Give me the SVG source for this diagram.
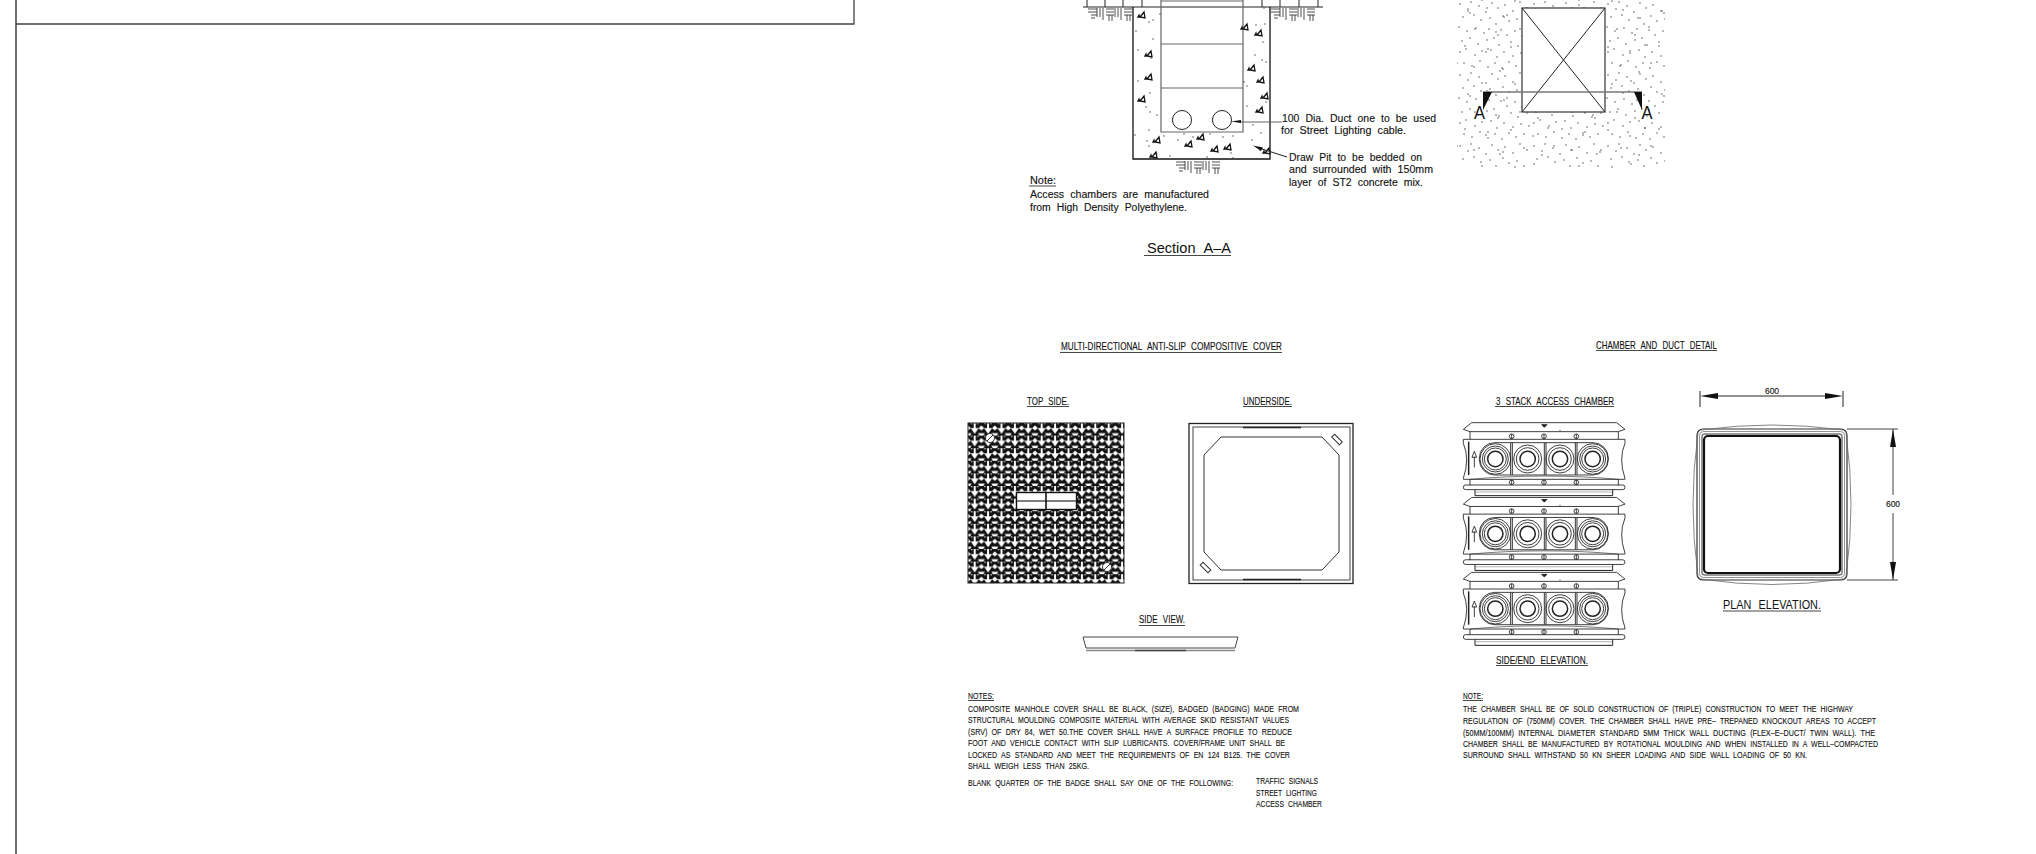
<svg xmlns="http://www.w3.org/2000/svg" xmlns:xlink="http://www.w3.org/1999/xlink" width="2036" height="854" viewBox="0 0 2036 854">
<style>
text{font-family:"Liberation Sans",Arial,sans-serif;fill:#111;stroke:#111;stroke-width:.12}
.s{font-size:10px;word-spacing:3px}
.c{font-size:9.500px;word-spacing:3px}
.t{font-size:10.500px;word-spacing:4px}
.l{fill:none;stroke:#222;stroke-width:1}
.g{fill:none;stroke:#666;stroke-width:1.200}
.u{stroke:#333;stroke-width:.9}
.dot{fill:none;stroke:#333;stroke-width:1.300;stroke-linecap:round}
</style>
<defs>
<pattern id="hatch" patternUnits="userSpaceOnUse" x="968" y="423" width="13.400" height="12.600">
<rect width="13.400" height="12.600" fill="#111"/>
<path d="M5.700 0h2v5h3l-4 6-4-6h3z" fill="#fff"/>
<path d="M0 2.500l2.800 2.500-2.800 2.500zM13.400 2.500l-2.800 2.500 2.800 2.500zM0 10.200h3.500l-1.500 2.400H0zM13.400 10.200h-3.500l1.500 2.400h2z" fill="#fff"/>
<path d="M3 0h1.300v1.300H3zM9.100 0h1.300v1.300H9.100z" fill="#eee"/>
</pattern>
<pattern id="sand" patternUnits="userSpaceOnUse" x="1457" y="0" width="74" height="71">
<path class="dot" d="M3 4h.01M11 9h.01M14 2h.01M22 6h.01M29 12h.01M35 3h.01M41 8h.01M48 5h.01M56 11h.01M63 2h.01M70 8h.01M6 17h.01M17 15h.01M24 20h.01M33 18h.01M39 24h.01M46 16h.01M52 21h.01M60 19h.01M67 24h.01M2 27h.01M10 31h.01M19 28h.01M27 33h.01M32 29h.01M44 30h.01M50 35h.01M58 31h.01M65 36h.01M72 30h.01M5 41h.01M13 38h.01M21 44h.01M30 40h.01M37 38h.01M42 45h.01M54 42h.01M61 46h.01M70 42h.01M3 52h.01M9 49h.01M18 55h.01M25 51h.01M34 50h.01M40 57h.01M47 52h.01M56 56h.01M64 53h.01M72 55h.01M7 63h.01M15 66h.01M23 61h.01M31 67h.01M38 63h.01M45 68h.01M52 62h.01M59 66h.01M67 63h.01"/>
</pattern>
<pattern id="sand2" patternUnits="userSpaceOnUse" x="1460" y="5" width="97" height="83">
<path class="dot" d="M8 6h.01M10 8h.01M27 3h.01M44 12h.01M47 10h.01M66 5h.01M83 13h.01M15 24h.01M36 27h.01M38 30h.01M60 24h.01M78 30h.01M92 22h.01M5 41h.01M26 47h.01M28 44h.01M51 42h.01M73 48h.01M88 40h.01M14 62h.01M40 66h.01M43 64h.01M64 60h.01M82 67h.01M94 58h.01M22 78h.01M55 79h.01M74 76h.01"/>
</pattern>
<g id="brick" fill="none" stroke="#222" stroke-width=".8">
<path d="M0 2h9M0 5h9M3 8h6M3 11h4M9 1v9M12 1v9M15 1v12M18 2h8M18 5h8M18 8h8M21 8v6M24 8v6M27 1v9M30 1v9M33 1v12M36 2h8M36 5h8M36 8h8M39 8v6M42 8v6"/>
</g>
<path id="rock" d="M-2 2L2 -3 3 3zM-4 2l1-2 .5 2z" fill="#fff" stroke="#111" stroke-width="1.300"/>
<g id="unit" transform="translate(1450,380) scale(.3333)">
<g fill="none" stroke="#222" stroke-width="2.600">
<path d="M65 128H500L525 148 505 155V178M65 128L40 148 60 155V178M60 155H505M330 150v3"/>
<path d="M40 178H525V190Q505 237 525 295M40 178V190Q60 237 40 295V298H525V295"/>
<path d="M60 298C200 285 365 285 505 298" stroke-width="1.800"/>
<path d="M60 298v18M505 298v18"/>
<path d="M47 315H518a6 6 0 0 1 0 14H47a6 6 0 0 1 0-14z"/>
<path d="M75 329v18H488V329" stroke-width="3"/>
<path d="M75 336H488" stroke-width="1.500" stroke="#666"/>
<rect x="88" y="188" width="387" height="97" rx="46"/>
<path d="M182 188V285M187 188V285M283 188V285M288 188V285M376 188V285M381 188V285" stroke="#333" stroke-width="3"/>
<circle cx="136" cy="237" r="46"/><circle cx="136" cy="237" r="39"/><circle cx="136" cy="237" r="33"/><circle cx="136" cy="237" r="23" stroke-width="4.500"/>
<circle cx="233" cy="237" r="42"/><circle cx="233" cy="237" r="34"/><circle cx="233" cy="237" r="23" stroke-width="4.500"/>
<circle cx="330" cy="237" r="42"/><circle cx="330" cy="237" r="34"/><circle cx="330" cy="237" r="23" stroke-width="4.500"/>
<circle cx="428" cy="237" r="46"/><circle cx="428" cy="237" r="39"/><circle cx="428" cy="237" r="33"/><circle cx="428" cy="237" r="23" stroke-width="4.500"/>
<path d="M56 185V285" stroke-width="4.500"/>
<path d="M73 262V230M66 232L73 214 80 232H66"/>
<circle cx="185" cy="169" r="7"/><circle cx="282" cy="169" r="7"/><circle cx="379" cy="169" r="7"/>
<circle cx="185" cy="307" r="7"/><circle cx="282" cy="307" r="7"/><circle cx="379" cy="307" r="7"/>
<path d="M185 162v14M282 162v14M379 162v14M185 300v14M282 300v14M379 300v14"/>
<path d="M275 134h16l-8 8z" fill="#222"/>
</g>
</g>
</defs>

<g id="frame" fill="none">
<path d="M16 0V854" stroke="#333" stroke-width="1.400"/>
<path d="M16 24H854V0" stroke="#444" stroke-width="1.300"/>
</g>

<g id="section-aa">
<path class="l" d="M1083 7H1323M1087 0V7M1105 0V7M1123 0V7M1142 0V7M1262 0V7M1280 0V7M1299 0V7M1318 0V7"/>
<use href="#brick" x="1088" y="7"/>
<use href="#brick" x="1271" y="7"/>
<use href="#brick" x="1176" y="160"/>
<path d="M1133 7V159H1270V7" fill="none" stroke="#111" stroke-width="1.300"/>
<path class="g" d="M1161 0V132H1243V0M1161 1H1243M1161 44H1243M1161 88H1243" stroke-width="1.500"/>
<circle class="l" cx="1182" cy="120" r="9.500"/>
<circle class="l" cx="1222" cy="120" r="9.500"/>
<use href="#rock" x="1142" y="15"/><use href="#rock" x="1259" y="33"/><use href="#rock" x="1149" y="54"/><use href="#rock" x="1252" y="68"/><use href="#rock" x="1149" y="77"/><use href="#rock" x="1261" y="80"/><use href="#rock" x="1265" y="96"/><use href="#rock" x="1260" y="110"/><use href="#rock" x="1142" y="99"/><use href="#rock" x="1157" y="140"/><use href="#rock" x="1189" y="144"/><use href="#rock" x="1201" y="137"/><use href="#rock" x="1215" y="149"/><use href="#rock" x="1228" y="147"/><use href="#rock" x="1154" y="155"/><use href="#rock" x="1267" y="151"/><use href="#rock" x="1245" y="27"/>
<path class="dot" d="M1149 22h.01M1153 20h.01M1160 14h.01M1136 31h.01M1153 39h.01M1138 50h.01M1151 58h.01M1138 81h.01M1150 93h.01M1146 107h.01M1150 112h.01M1157 115h.01M1149 130h.01M1147 141h.01M1149 146h.01M1170 156h.01M1164 136h.01M1184 134h.01M1178 140h.01M1193 137h.01M1210 134h.01M1223 137h.01M1233 136h.01M1252 140h.01M1261 133h.01M1253 125h.01M1247 106h.01M1244 82h.01M1247 86h.01M1255 55h.01M1262 60h.01M1266 62h.01M1264 8h.01M1256 25h.01M1265 24h.01M1263 42h.01M1266 102h.01M1135 135h.01M1207 157h.01M1233 158h.01M1260 150h.01M1231 153h.01"/>
<path class="g" d="M1282 122H1240"/>
<path d="M1241 120l-10 1.500 10 1.500z" fill="#111"/>
<path class="l" d="M1287 157L1262 149"/>
<path d="M1263 147.500L1253 145.500 1261 151z" fill="#111"/>
<text class="s" x="1282" y="122" textLength="154" lengthAdjust="spacingAndGlyphs">100 Dia. Duct one to be used</text>
<text class="s" x="1281" y="134" textLength="125" lengthAdjust="spacingAndGlyphs">for Street Lighting cable.</text>
<text class="s" x="1289" y="161" textLength="133" lengthAdjust="spacingAndGlyphs">Draw Pit to be bedded on</text>
<text class="s" x="1289" y="173" textLength="144" lengthAdjust="spacingAndGlyphs">and surrounded with 150mm</text>
<text class="s" x="1289" y="186" textLength="134" lengthAdjust="spacingAndGlyphs">layer of ST2 concrete mix.</text>
<text class="s" x="1030" y="184" textLength="26" lengthAdjust="spacingAndGlyphs">Note:</text>
<path class="u" d="M1029 186H1056"/>
<text class="s" x="1030" y="198" textLength="179" lengthAdjust="spacingAndGlyphs">Access chambers are manufactured</text>
<text class="s" x="1030" y="211" textLength="157" lengthAdjust="spacingAndGlyphs">from High Density Polyethylene.</text>
<text x="1147" y="253" font-size="15" textLength="84" lengthAdjust="spacingAndGlyphs" word-spacing="5" style="stroke-width:0">Section A–A</text>
<path class="u" d="M1144 255.500H1231"/>
</g>

<g id="plan-aa">
<rect x="1457" y="0" width="208" height="168" fill="url(#sand)"/>
<rect x="1457" y="0" width="208" height="168" fill="url(#sand2)"/>
<rect x="1522" y="8" width="83" height="104" fill="#fff" stroke="#333" stroke-width="1.200"/>
<path class="l" d="M1522 8L1605 112M1605 8L1522 112"/>
<path d="M1483 92H1642" stroke="#777" stroke-width="1.400" fill="none"/>
<path d="M1483 92h9l-9 18zM1634 92h8v18z" fill="#111"/>
<text x="1474" y="119" font-size="18" textLength="11" lengthAdjust="spacingAndGlyphs" style="stroke-width:0">A</text>
<text x="1641.500" y="119" font-size="18" textLength="11" lengthAdjust="spacingAndGlyphs" style="stroke-width:0">A</text>
</g>

<g id="cover-title">
<text class="t" x="1061" y="350" textLength="221" lengthAdjust="spacingAndGlyphs">MULTI-DIRECTIONAL ANTI-SLIP COMPOSITIVE COVER</text>
<path class="u" d="M1060 352.500H1282"/>
<text class="t" x="1027" y="405" textLength="42" lengthAdjust="spacingAndGlyphs">TOP SIDE.</text>
<path class="u" d="M1027 406.500H1069"/>
<text class="t" x="1243" y="405" textLength="49" lengthAdjust="spacingAndGlyphs">UNDERSIDE.</text>
<path class="u" d="M1243 406.500H1292"/>
</g>

<g id="cover-top">
<rect x="968" y="423" width="156" height="160" fill="url(#hatch)" stroke="#222"/>
<rect x="1016.500" y="492.500" width="60" height="17" fill="#fff" stroke="#111" stroke-width="1.400"/>
<path d="M1017 501H1076" stroke="#555" stroke-width="1.300"/>
<path d="M1046 492V510" stroke="#111" stroke-width="1.600"/>
<circle cx="990" cy="438" r="4.500" fill="#fff" stroke="#333"/><path d="M987 441l6-6" stroke="#333"/>
<circle cx="1107" cy="567" r="4.500" fill="#fff" stroke="#333"/><path d="M1104 570l6-6" stroke="#333"/>
</g>

<g id="cover-under" fill="none">
<rect x="1189" y="423.500" width="164" height="160" stroke="#222" stroke-width="1.300"/>
<rect x="1193" y="427" width="157" height="153" stroke="#444"/>
<path d="M1243 427.500H1301M1243 579.500H1301" stroke="#222" stroke-width="1.600"/>
<path d="M1221 437H1322L1339 455V552L1322 570H1221L1204 552V455Z" stroke="#333"/>
<rect x="-2" y="-5.500" width="4" height="11" transform="translate(1337,439.500) rotate(-45)" stroke="#333"/>
<rect x="-2" y="-5.500" width="4" height="11" transform="translate(1205.500,567.500) rotate(-45)" stroke="#333"/>
</g>

<g id="side-view" fill="none">
<text class="t" x="1139" y="623" textLength="46" lengthAdjust="spacingAndGlyphs">SIDE VIEW.</text>
<path class="u" d="M1139 625.500H1185"/>
<path d="M1083 637H1238L1235 648H1086Z" stroke="#444" stroke-width="1"/>
<path d="M1086 650.500H1235" stroke="#888" stroke-width="1.400"/>
<path d="M1135 650.500H1186" stroke="#444" stroke-width="1.600"/>
</g>

<g id="cover-notes">
<text class="c" x="968" y="699" textLength="26" lengthAdjust="spacingAndGlyphs">NOTES:</text>
<path class="u" d="M968 700.500H994"/>
<text class="c" x="968" y="712" textLength="331" lengthAdjust="spacingAndGlyphs">COMPOSITE MANHOLE COVER SHALL BE BLACK, (SIZE), BADGED (BADGING) MADE FROM</text>
<text class="c" x="968" y="723" textLength="321" lengthAdjust="spacingAndGlyphs">STRUCTURAL MOULDING COMPOSITE MATERIAL WITH AVERAGE SKID RESISTANT VALUES</text>
<text class="c" x="968" y="735" textLength="324" lengthAdjust="spacingAndGlyphs">(SRV) OF DRY 84, WET 50.THE COVER SHALL HAVE A SURFACE PROFILE TO REDUCE</text>
<text class="c" x="968" y="746" textLength="317" lengthAdjust="spacingAndGlyphs">FOOT AND VEHICLE CONTACT WITH SLIP LUBRICANTS. COVER/FRAME UNIT SHALL BE</text>
<text class="c" x="968" y="758" textLength="322" lengthAdjust="spacingAndGlyphs">LOCKED AS STANDARD AND MEET THE REQUIREMENTS OF EN 124 B125. THE COVER</text>
<text class="c" x="968" y="769" textLength="121" lengthAdjust="spacingAndGlyphs">SHALL WEIGH LESS THAN 25KG.</text>
<text class="c" transform="translate(968,786) scale(.68,1)" textLength="390" lengthAdjust="spacingAndGlyphs">BLANK QUARTER OF THE BADGE SHALL SAY ONE OF THE FOLLOWING:</text>
<text class="c" x="1256" y="784" textLength="62" lengthAdjust="spacingAndGlyphs" style="font-size:9px">TRAFFIC SIGNALS</text>
<text class="c" x="1256" y="796" textLength="61" lengthAdjust="spacingAndGlyphs" style="font-size:9px">STREET LIGHTING</text>
<text class="c" x="1256" y="807" textLength="66" lengthAdjust="spacingAndGlyphs" style="font-size:9px">ACCESS CHAMBER</text>
</g>

<g id="chamber-title">
<text class="t" x="1596" y="349" textLength="121" lengthAdjust="spacingAndGlyphs">CHAMBER AND DUCT DETAIL</text>
<path class="u" d="M1596 350.500H1717"/>
<text class="t" x="1496" y="405" textLength="118" lengthAdjust="spacingAndGlyphs">3 STACK ACCESS CHAMBER</text>
<path class="u" d="M1495 406.500H1614"/>
</g>

<g id="chamber-stack">
<use href="#unit"/>
<use href="#unit" y="74.800"/>
<use href="#unit" y="149.700"/>
<text class="t" x="1496" y="664" textLength="92" lengthAdjust="spacingAndGlyphs">SIDE/END ELEVATION.</text>
<path class="u" d="M1496 665.500H1588"/>
</g>

<g id="plan-elevation" fill="none">
<path d="M1700 391V407M1843 391V407M1716 396H1827" stroke="#222"/>
<path d="M1700 396l18-3v6zM1843 396l-18-3v6z" fill="#111"/>
<path d="M1847 429H1898M1847 580H1898M1893 429V495M1893 513V580" stroke="#444"/>
<path d="M1893 429l-3 18h6zM1893 580l-3-18h6z" fill="#111"/>
<text x="1772" y="394" font-size="8.500" text-anchor="middle">600</text>
<text x="1893" y="507" font-size="8.500" text-anchor="middle">600</text>
<rect x="1697" y="429" width="150" height="151" rx="6" stroke="#333" stroke-width="1.200"/>
<path d="M1701 430Q1772 420 1843 430M1701 579Q1772 590 1843 579M1698 433Q1688 505 1698 576M1846 433Q1856 505 1846 576" stroke="#666" stroke-width=".8"/>
<rect x="1699.500" y="431.500" width="145" height="146" rx="4" stroke="#777" stroke-width=".8"/>
<rect x="1702" y="434" width="140" height="141" rx="2" stroke="#333"/>
<rect x="1704" y="436" width="136" height="137" rx="4" stroke="#111" stroke-width="2.200"/>
<text x="1723" y="609" font-size="13" textLength="98" lengthAdjust="spacingAndGlyphs" word-spacing="5" style="stroke-width:0">PLAN ELEVATION.</text>
<path class="u" d="M1723 611H1821"/>
</g>

<g id="chamber-notes">
<text class="c" x="1463" y="699" textLength="20" lengthAdjust="spacingAndGlyphs">NOTE:</text>
<path class="u" d="M1463 700.500H1483"/>
<text class="c" x="1463" y="712" textLength="390" lengthAdjust="spacingAndGlyphs">THE CHAMBER SHALL BE OF SOLID CONSTRUCTION OF (TRIPLE) CONSTRUCTION TO MEET THE HIGHWAY</text>
<text class="c" x="1463" y="724" textLength="413" lengthAdjust="spacingAndGlyphs">REGULATION OF (750MM) COVER. THE CHAMBER SHALL HAVE PRE– TREPANED KNOCKOUT AREAS TO ACCEPT</text>
<text class="c" x="1463" y="736" textLength="412" lengthAdjust="spacingAndGlyphs">(50MM/100MM) INTERNAL DIAMETER STANDARD 5MM THICK WALL DUCTING (FLEX–E–DUCT/ TWIN WALL). THE</text>
<text class="c" x="1463" y="747" textLength="415" lengthAdjust="spacingAndGlyphs">CHAMBER SHALL BE MANUFACTURED BY ROTATIONAL MOULDING AND WHEN INSTALLED IN A WELL–COMPACTED</text>
<text class="c" x="1463" y="758" textLength="344" lengthAdjust="spacingAndGlyphs">SURROUND SHALL WITHSTAND 50 KN SHEER LOADING AND SIDE WALL LOADING OF 50 KN.</text>
</g>
</svg>
